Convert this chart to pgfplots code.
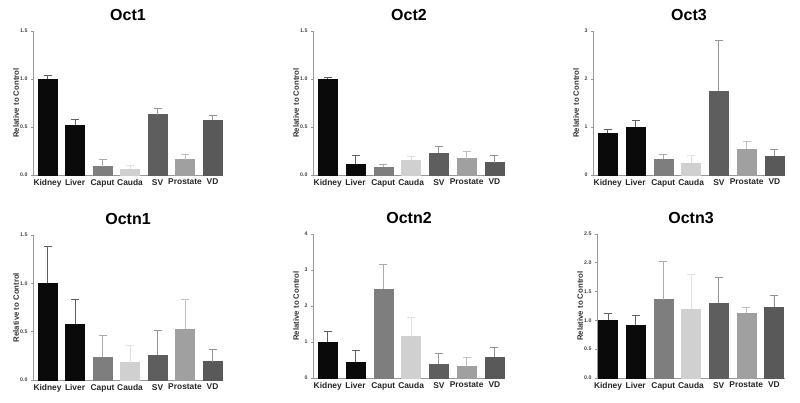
\documentclass[border=0pt]{standalone}
\usepackage{fontspec}
\setmainfont{Liberation Sans}
\usepackage{pgfplots}
\pgfplotsset{compat=1.18}
\definecolor{cK}{HTML}{0A0A0A}
\definecolor{cCap}{HTML}{7E7E7E}
\definecolor{cCau}{HTML}{D0D0D0}
\definecolor{cSV}{HTML}{5E5E5E}
\definecolor{cPr}{HTML}{A0A0A0}
\definecolor{cVD}{HTML}{595959}
\pgfplotsset{
 panel/.style={
  scale only axis, width=190pt, height=144pt, anchor=south west,
  axis x line*=bottom, axis y line*=left,
  axis line style={draw=black!40, line width=0.8pt},
  ymin=0, xmin=-0.53, xmax=6.38,
  xtick={0,...,6}, xticklabels={Kidney,Liver,Caput,Cauda,SV,Prostate,VD},
  xtick style={draw=none},
  ytick style={black!40, line width=0.6pt}, tick align=outside, major tick length=2pt,
  xticklabel style={font=\fontsize{8.4}{9}\selectfont\bfseries, text=black!85, inner sep=1pt, yshift=-1pt},
  yticklabel style={font=\fontsize{5.2}{6}\selectfont\bfseries, text=black!75},
  ylabel={Relative to Control},
  ylabel style={font=\fontsize{7.8}{9}\selectfont\bfseries, text=black!80, at={(axis description cs:0,0.5)}, anchor=center, yshift=17pt},
  title style={font=\fontsize{16}{18}\selectfont\bfseries, at={(axis description cs:0.5,1)}, anchor=south, yshift=1pt},
  /pgf/number format/assume math mode=true,
  clip=false,
 },
 dec/.style={yticklabel style={/pgf/number format/.cd, fixed, fixed zerofill, precision=1}},
 b/.style={ybar, bar width=19pt, bar shift=0pt, fill=#1, draw=#1,
   error bars/.cd, y dir=plus, y explicit,
   error bar style={#1!65!white, line width=0.8pt},
   error mark options={#1!65!white, rotate=90, mark size=4pt, line width=0.8pt}},
}
\begin{document}
\begin{tikzpicture}
\path[use as bounding box] (0,0) rectangle (800pt,403pt);
% Oct1
\begin{axis}[panel, dec, at={(33pt,228pt)}, ymax=1.5, ytick={0,0.5,1,1.5}, title={Oct1}]
\addplot[b=cK] coordinates {(0,1.00) +- (0,0.04)};
\addplot[b=cK] coordinates {(1,0.52) +- (0,0.06)};
\addplot[b=cCap] coordinates {(2,0.087) +- (0,0.073)};
\addplot[b=cCau] coordinates {(3,0.062) +- (0,0.04)};
\addplot[b=cSV] coordinates {(4,0.63) +- (0,0.06)};
\addplot[b=cPr] coordinates {(5,0.16) +- (0,0.05)};
\addplot[b=cVD] coordinates {(6,0.57) +- (0,0.05)};
\end{axis}
% Oct2
\begin{axis}[panel, dec, at={(313pt,228pt)}, width=192pt, ymax=1.5, ytick={0,0.5,1,1.5}, title={Oct2}]
\addplot[b=cK] coordinates {(0,1.00) +- (0,0.02)};
\addplot[b=cK] coordinates {(1,0.11) +- (0,0.09)};
\addplot[b=cCap] coordinates {(2,0.08) +- (0,0.035)};
\addplot[b=cCau] coordinates {(3,0.153) +- (0,0.037)};
\addplot[b=cSV] coordinates {(4,0.23) +- (0,0.07)};
\addplot[b=cPr] coordinates {(5,0.17) +- (0,0.08)};
\addplot[b=cVD] coordinates {(6,0.13) +- (0,0.07)};
\end{axis}
% Oct3
\begin{axis}[panel, at={(593pt,228pt)}, width=192pt, ymax=3, ytick={0,1,2,3}, title={Oct3}]
\addplot[b=cK] coordinates {(0,0.87) +- (0,0.07)};
\addplot[b=cK] coordinates {(1,1.00) +- (0,0.14)};
\addplot[b=cCap] coordinates {(2,0.33) +- (0,0.10)};
\addplot[b=cCau] coordinates {(3,0.24) +- (0,0.16)};
\addplot[b=cSV] coordinates {(4,1.74) +- (0,1.07)};
\addplot[b=cPr] coordinates {(5,0.54) +- (0,0.17)};
\addplot[b=cVD] coordinates {(6,0.39) +- (0,0.14)};
\end{axis}
% Octn1
\begin{axis}[panel, dec, at={(33pt,23pt)}, height=145pt, ymax=1.5, ytick={0,0.5,1,1.5}, title={Octn1}]
\addplot[b=cK] coordinates {(0,1.00) +- (0,0.386)};
\addplot[b=cK] coordinates {(1,0.58) +- (0,0.25)};
\addplot[b=cCap] coordinates {(2,0.234) +- (0,0.226)};
\addplot[b=cCau] coordinates {(3,0.18) +- (0,0.175)};
\addplot[b=cSV] coordinates {(4,0.26) +- (0,0.25)};
\addplot[b=cPr] coordinates {(5,0.53) +- (0,0.30)};
\addplot[b=cVD] coordinates {(6,0.19) +- (0,0.13)};
\end{axis}
% Octn2
\begin{axis}[panel, at={(313pt,25pt)}, width=192pt, ymax=4, ytick={0,1,2,3,4}, title={Octn2}]
\addplot[b=cK] coordinates {(0,1.00) +- (0,0.30)};
\addplot[b=cK] coordinates {(1,0.44) +- (0,0.32)};
\addplot[b=cCap] coordinates {(2,2.47) +- (0,0.68)};
\addplot[b=cCau] coordinates {(3,1.15) +- (0,0.54)};
\addplot[b=cSV] coordinates {(4,0.39) +- (0,0.28)};
\addplot[b=cPr] coordinates {(5,0.34) +- (0,0.22)};
\addplot[b=cVD] coordinates {(6,0.58) +- (0,0.27)};
\end{axis}
% Octn3
\begin{axis}[panel, dec, at={(597pt,25pt)}, width=188pt, xmin=-0.4, xmax=6.4, ymax=2.5, ytick={0,0.5,1,1.5,2,2.5}, title={Octn3}]
\addplot[b=cK] coordinates {(0,1.00) +- (0,0.12)};
\addplot[b=cK] coordinates {(1,0.92) +- (0,0.17)};
\addplot[b=cCap] coordinates {(2,1.36) +- (0,0.67)};
\addplot[b=cCau] coordinates {(3,1.20) +- (0,0.60)};
\addplot[b=cSV] coordinates {(4,1.30) +- (0,0.45)};
\addplot[b=cPr] coordinates {(5,1.12) +- (0,0.11)};
\addplot[b=cVD] coordinates {(6,1.23) +- (0,0.20)};
\end{axis}
\end{tikzpicture}
\end{document}
